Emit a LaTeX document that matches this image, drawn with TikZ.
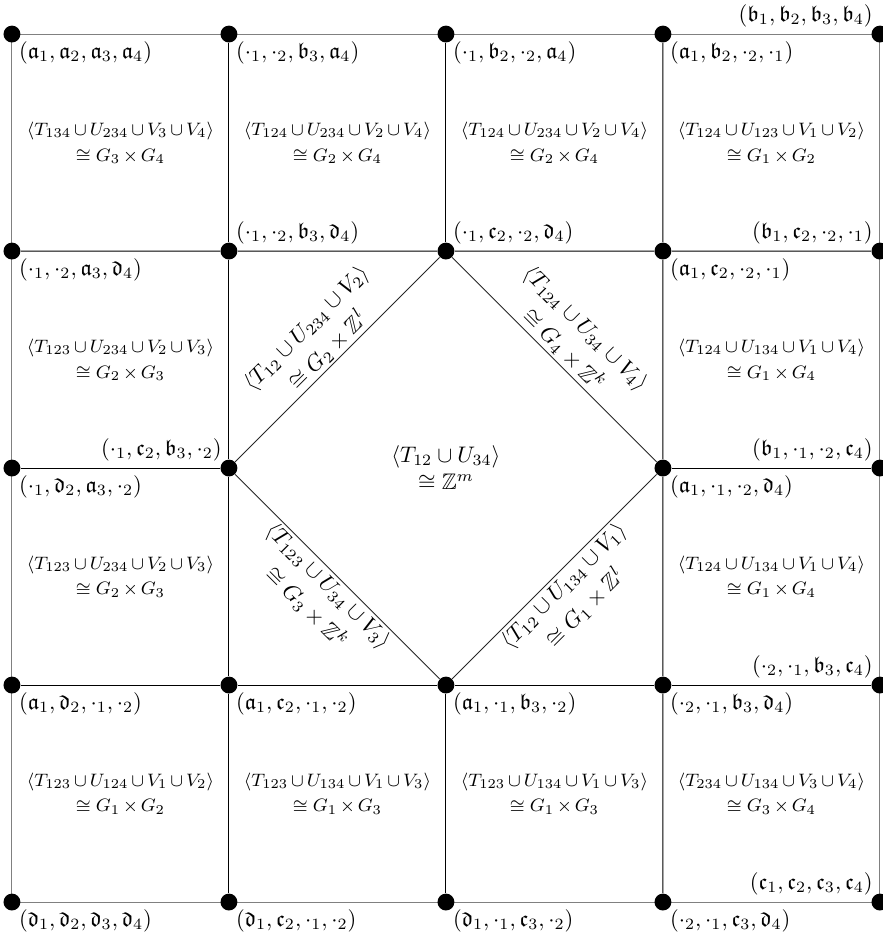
\documentclass[tikz,border=0pt]{standalone}
\usepackage{amsmath,amsfonts,amssymb}
\usepackage{tikz}
\newcommand{\fa}{\mathfrak{a}}
\newcommand{\fb}{\mathfrak{b}}
\newcommand{\fc}{\mathfrak{c}}
\newcommand{\fd}{\mathfrak{d}}
\newcommand{\Z}{\mathbb{Z}}
\tikzset{pt/.style={circle,fill=black,inner sep=0pt,minimum size=7.5pt},
    rim/.style={draw=black!50},
    br/.style={anchor=north west,inner sep=3pt},
    ar/.style={anchor=south west,inner sep=3pt},
    al/.style={anchor=south east,inner sep=3pt},
    cell/.style={font={\footnotesize\medmuskip=2.7mu\relax},align=center},
    diag/.style={sloped,align=center,inner sep=1pt}}

\begin{document}
\begin{tikzpicture}[scale=3.39]
        \useasboundingbox (-0.055,-0.161) rectangle (4.014,4.157);
        % edges
        \coordinate (v04) at (0,4); \coordinate (v44) at (4,4); \coordinate (v00) at (0,0); \coordinate (v40) at (4,0);
        \draw[rim] (v04) -- (v44) -- (v40) -- (v00) -- cycle;
        % vertices
        \node[pt] (v04) at (0,4) {}; \node[pt] (v14) at (1,4) {}; \node[pt] (v24) at (2,4) {}; \node[pt] (v34) at (3,4) {}; \node[pt] (v44) at (4,4) {};
        \node[pt] (v03) at (0,3) {}; \node[pt] (v13) at (1,3) {}; \node[pt] (v23) at (2,3) {}; \node[pt] (v33) at (3,3) {}; \node[pt] (v43) at (4,3) {};
        \node[pt] (v02) at (0,2) {}; \node[pt] (v12) at (1,2) {}; \node[pt] (v32) at (3,2) {}; \node[pt] (v42) at (4,2) {};
        \node[pt] (v01) at (0,1) {}; \node[pt] (v11) at (1,1) {}; \node[pt] (v21) at (2,1) {}; \node[pt] (v31) at (3,1) {}; \node[pt] (v41) at (4,1) {};
        \node[pt] (v00) at (0,0) {}; \node[pt] (v10) at (1,0) {}; \node[pt] (v20) at (2,0) {}; \node[pt] (v30) at (3,0) {}; \node[pt] (v40) at (4,0) {};
        \draw (v03) -- (v13) -- (v23) -- (v33) -- (v43); \draw (v02) -- (v12); \draw (v32) -- (v42); \draw (v01) -- (v11) -- (v21) -- (v31) -- (v41);
        \draw (v14) -- (v13) -- (v12) -- (v11) -- (v10); \draw (v24) -- (v23); \draw (v21) -- (v20); \draw (v34) -- (v33) -- (v32) -- (v31) -- (v30);
        \draw[black!85] (v23) -- (v32) -- (v21) -- (v12) -- (v23);
        % vertex labels
        \node[br] (l04) at (v04) {$(\fa_1,\fa_2,\fa_3,\fa_4)$}; \node[br] (l14) at (v14) {$(\cdot_1,\cdot_2,\fb_3,\fa_4)$};
        \node[br] (l24) at (v24) {$(\cdot_1,\fb_2,\cdot_2,\fa_4)$}; \node[br] (l34) at (v34) {$(\fa_1,\fb_2,\cdot_2,\cdot_1)$};
        \node[al] (l44) at (v44) {$(\fb_1,\fb_2,\fb_3,\fb_4)$};
        \node[br] (l03) at (v03) {$(\cdot_1,\cdot_2,\fa_3,\fd_4)$}; \node[ar] (l13) at (v13) {$(\cdot_1,\cdot_2,\fb_3,\fd_4)$};
        \node[ar] (l23) at (v23) {$(\cdot_1,\fc_2,\cdot_2,\fd_4)$}; \node[br] (l33) at (v33) {$(\fa_1,\fc_2,\cdot_2,\cdot_1)$};
        \node[al] (l43) at (v43) {$(\fb_1,\fc_2,\cdot_2,\cdot_1)$};
        \node[br] (l02) at (v02) {$(\cdot_1,\fd_2,\fa_3,\cdot_2)$}; \node[al] (l12) at (v12) {$(\cdot_1,\fc_2,\fb_3,\cdot_2)$};
        \node[br] (l32) at (v32) {$(\fa_1,\cdot_1,\cdot_2,\fd_4)$}; \node[al] (l42) at (v42) {$(\fb_1,\cdot_1,\cdot_2,\fc_4)$};
        \node[br] (l01) at (v01) {$(\fa_1,\fd_2,\cdot_1,\cdot_2)$}; \node[br] (l11) at (v11) {$(\fa_1,\fc_2,\cdot_1,\cdot_2)$};
        \node[br] (l21) at (v21) {$(\fa_1,\cdot_1,\fb_3,\cdot_2)$}; \node[br] (l31) at (v31) {$(\cdot_2,\cdot_1,\fb_3,\fd_4)$};
        \node[al] (l41) at (v41) {$(\cdot_2,\cdot_1,\fb_3,\fc_4)$};
        \node[br] (l00) at (v00) {$(\fd_1,\fd_2,\fd_3,\fd_4)$}; \node[br] (l10) at (v10) {$(\fd_1,\fc_2,\cdot_1,\cdot_2)$};
        \node[br] (l20) at (v20) {$(\fd_1,\cdot_1,\fc_3,\cdot_2)$}; \node[br] (l30) at (v30) {$(\cdot_2,\cdot_1,\fc_3,\fd_4)$};
        \node[al] (l40) at (v40) {$(\fc_1,\fc_2,\fc_3,\fc_4)$};
        % cells
        \node[cell] (c03) at (0.5,3.5) {$\langle T_{134}\cup U_{234}\cup V_3\cup V_4\rangle$\\[2pt]$\cong G_3\times G_4$};
        \node[cell] (c13) at (1.5,3.5) {$\langle T_{124}\cup U_{234}\cup V_2\cup V_4\rangle$\\[2pt]$\cong G_2\times G_4$};
        \node[cell] (c23) at (2.5,3.5) {$\langle T_{124}\cup U_{234}\cup V_2\cup V_4\rangle$\\[2pt]$\cong G_2\times G_4$};
        \node[cell] (c33) at (3.5,3.5) {$\langle T_{124}\cup U_{123}\cup V_1\cup V_2\rangle$\\[2pt]$\cong G_1\times G_2$};
        \node[cell] (c02) at (0.5,2.5) {$\langle T_{123}\cup U_{234}\cup V_2\cup V_3\rangle$\\[2pt]$\cong G_2\times G_3$};
        \node[cell] (c32) at (3.5,2.5) {$\langle T_{124}\cup U_{134}\cup V_1\cup V_4\rangle$\\[2pt]$\cong G_1\times G_4$};
        \node[cell] (c01) at (0.5,1.5) {$\langle T_{123}\cup U_{234}\cup V_2\cup V_3\rangle$\\[2pt]$\cong G_2\times G_3$};
        \node[cell] (c31) at (3.5,1.5) {$\langle T_{124}\cup U_{134}\cup V_1\cup V_4\rangle$\\[2pt]$\cong G_1\times G_4$};
        \node[cell] (c00) at (0.5,0.5) {$\langle T_{123}\cup U_{124}\cup V_1\cup V_2\rangle$\\[2pt]$\cong G_1\times G_2$};
        \node[cell] (c10) at (1.5,0.5) {$\langle T_{123}\cup U_{134}\cup V_1\cup V_3\rangle$\\[2pt]$\cong G_1\times G_3$};
        \node[cell] (c20) at (2.5,0.5) {$\langle T_{123}\cup U_{134}\cup V_1\cup V_3\rangle$\\[2pt]$\cong G_1\times G_3$};
        \node[cell] (c30) at (3.5,0.5) {$\langle T_{234}\cup U_{134}\cup V_3\cup V_4\rangle$\\[2pt]$\cong G_3\times G_4$};
        % middle
        \node[align=center] (mid) at (2,2) {$\langle T_{12}\cup U_{34}\rangle$\\$\cong\Z^m$};
        \path (v12) -- node[diag,above] (dtl) {$\langle T_{12}\cup U_{234}\cup V_2\rangle$\\[2pt]$\cong G_2\times\Z^l$} (v23);
        \path (v23) -- node[diag,above] (dtr) {$\langle T_{124}\cup U_{34}\cup V_4\rangle$\\[2pt]$\cong G_4\times\Z^k$} (v32);
        \path (v12) -- node[diag,below] (dbl) {$\langle T_{123}\cup U_{34}\cup V_3\rangle$\\[2pt]$\cong G_3\times\Z^k$} (v21);
        \path (v21) -- node[diag,below] (dbr) {$\langle T_{12}\cup U_{134}\cup V_1\rangle$\\[2pt]$\cong G_1\times\Z^l$} (v32);
    \end{tikzpicture}
\end{document}
